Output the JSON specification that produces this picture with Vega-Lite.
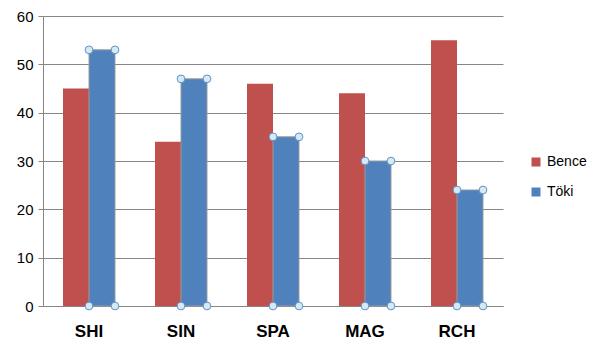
{
  "$schema": "https://vega.github.io/schema/vega-lite/v6.json",
  "autosize": {"type": "none"},
  "padding": {"left": 43, "top": 16, "right": 96, "bottom": 50},
  "width": 460,
  "height": 290,
  "background": "white",
  "config": {
    "view": {"stroke": null},
    "font": "Liberation Sans"
  },
  "data": {
    "values": [
      {"cat": "SHI", "series": "Bence", "value": 45},
      {"cat": "SHI", "series": "Töki", "value": 53},
      {"cat": "SIN", "series": "Bence", "value": 34},
      {"cat": "SIN", "series": "Töki", "value": 47},
      {"cat": "SPA", "series": "Bence", "value": 46},
      {"cat": "SPA", "series": "Töki", "value": 35},
      {"cat": "MAG", "series": "Bence", "value": 44},
      {"cat": "MAG", "series": "Töki", "value": 30},
      {"cat": "RCH", "series": "Bence", "value": 55},
      {"cat": "RCH", "series": "Töki", "value": 24}
    ]
  },
  "encoding": {
    "x": {
      "field": "cat",
      "type": "nominal",
      "sort": ["SHI", "SIN", "SPA", "MAG", "RCH"],
      "scale": {"paddingInner": 0.4348, "paddingOuter": 0.2174},
      "axis": {
        "title": null,
        "labelAngle": 0,
        "labelFontSize": 17,
        "labelFontWeight": "bold",
        "labelColor": "#000000",
        "ticks": false,
        "tickSize": 0,
        "labelPadding": 17,
        "domainColor": "#868686",
        "domainWidth": 1,
        "grid": false
      }
    }
  },
  "layer": [
    {
      "mark": {"type": "bar", "strokeWidth": 1},
      "encoding": {
        "xOffset": {"field": "series", "type": "nominal", "scale": {"domain": ["Bence", "Töki"], "paddingInner": 0, "paddingOuter": 0}},
        "y": {
          "field": "value",
          "type": "quantitative",
          "scale": {"domain": [0, 60], "nice": false},
          "axis": {
            "title": null,
            "values": [0, 10, 20, 30, 40, 50, 60],
            "labelFontSize": 15,
            "labelColor": "#000000",
            "tickSize": 5,
            "tickColor": "#868686",
            "labelPadding": 5,
            "gridColor": "#868686",
            "gridWidth": 1,
            "domainColor": "#868686",
            "domainWidth": 1
          }
        },
        "color": {
          "field": "series",
          "type": "nominal",
          "scale": {"domain": ["Bence", "Töki"], "range": ["#C0504D", "#4F81BD"]},
          "legend": {
            "title": null,
            "orient": "none",
            "legendX": 486,
            "legendY": 139,
            "padding": 0,
            "symbolType": "square",
            "symbolSize": 81,
            "symbolStrokeWidth": 0,
            "labelFontSize": 14,
            "labelColor": "#000000",
            "labelOffset": 4,
            "rowPadding": 16
          }
        },
        "stroke": {
          "condition": {"test": "datum.series === 'Töki'", "value": "#9A9A9A"},
          "value": null
        }
      }
    },
    {
      "transform": [{"filter": "datum.series === 'Töki'"}],
      "mark": {"type": "point", "filled": true, "fill": "#D6EAF6", "stroke": "#5E93C8", "strokeWidth": 1, "size": 60, "opacity": 1},
      "encoding": {
        "xOffset": {"datum": "L", "scale": {"type": "point", "domain": ["B", "L", "R"], "padding": 0}},
        "y": {"field": "value", "type": "quantitative"}
      }
    },
    {
      "transform": [{"filter": "datum.series === 'Töki'"}],
      "mark": {"type": "point", "filled": true, "fill": "#D6EAF6", "stroke": "#5E93C8", "strokeWidth": 1, "size": 60, "opacity": 1},
      "encoding": {
        "xOffset": {"datum": "R", "scale": {"type": "point", "domain": ["B", "L", "R"], "padding": 0}},
        "y": {"field": "value", "type": "quantitative"}
      }
    },
    {
      "transform": [{"filter": "datum.series === 'Töki'"}],
      "mark": {"type": "point", "filled": true, "fill": "#D6EAF6", "stroke": "#5E93C8", "strokeWidth": 1, "size": 60, "opacity": 1},
      "encoding": {
        "xOffset": {"datum": "L", "scale": {"type": "point", "domain": ["B", "L", "R"], "padding": 0}},
        "y": {"datum": 0, "type": "quantitative"}
      }
    },
    {
      "transform": [{"filter": "datum.series === 'Töki'"}],
      "mark": {"type": "point", "filled": true, "fill": "#D6EAF6", "stroke": "#5E93C8", "strokeWidth": 1, "size": 60, "opacity": 1},
      "encoding": {
        "xOffset": {"datum": "R", "scale": {"type": "point", "domain": ["B", "L", "R"], "padding": 0}},
        "y": {"datum": 0, "type": "quantitative"}
      }
    }
  ],
  "resolve": {"scale": {"xOffset": "independent"}}
}
